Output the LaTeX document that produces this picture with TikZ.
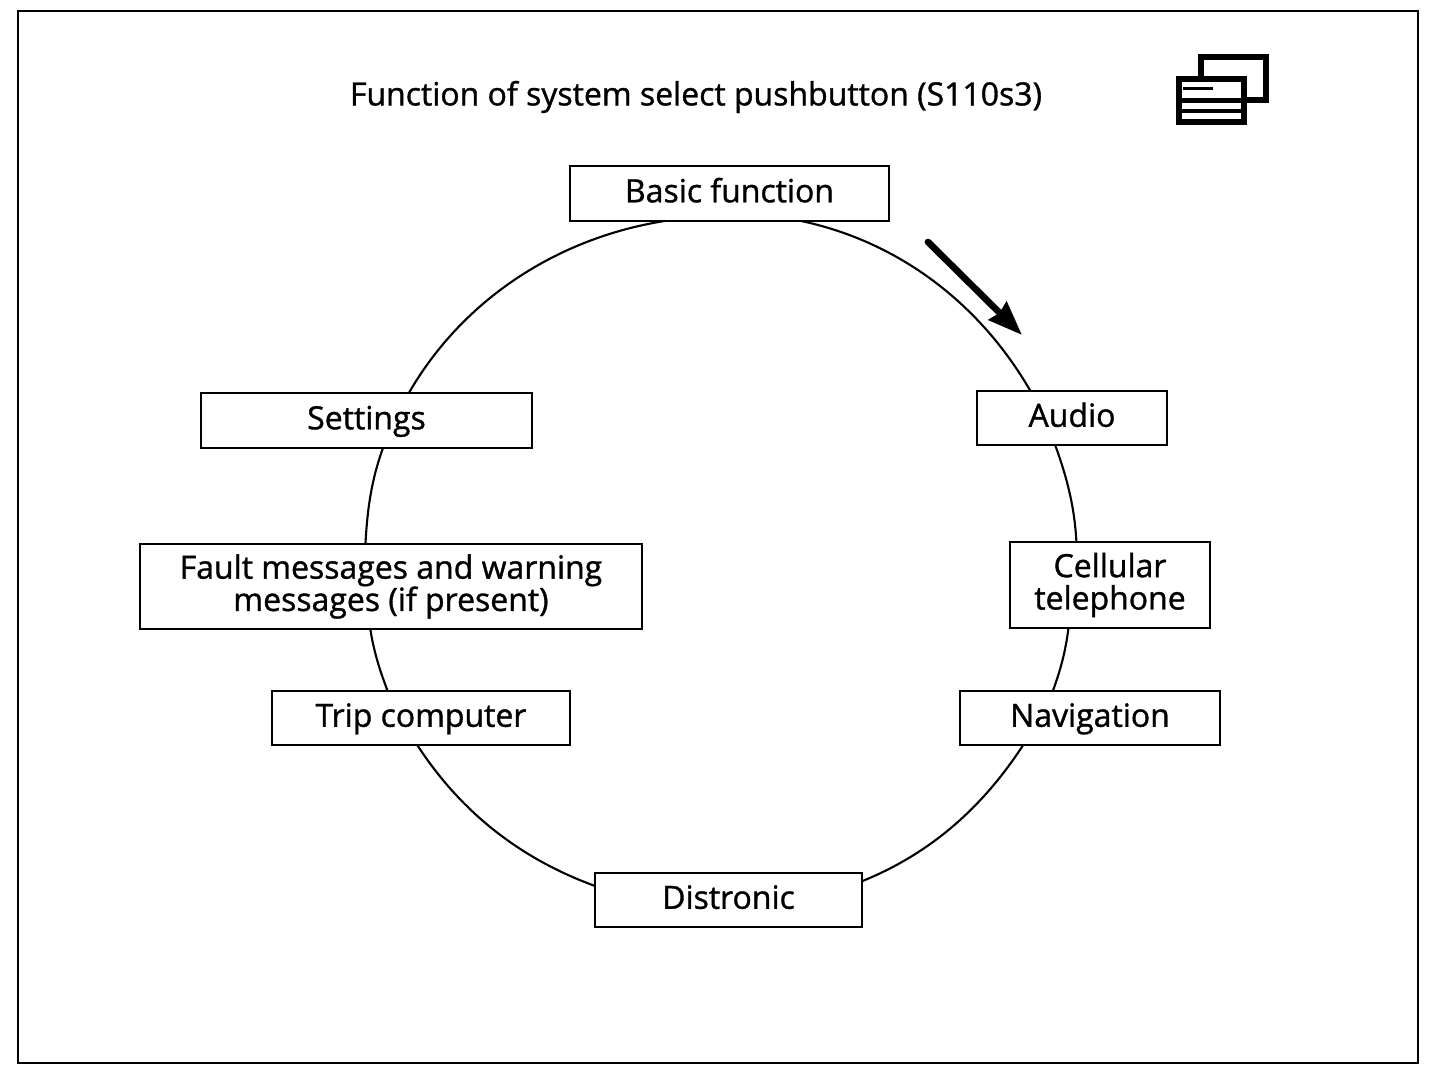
\documentclass[tikz,border=0pt]{standalone}
\usepackage{fontspec}
\setmainfont[FakeBold=1.1]{Open Sans}
\usetikzlibrary{arrows.meta}

\tikzset{
  menubox/.style={draw, rectangle, fill=white, line width=1.5pt, outer sep=0pt, inner sep=0pt, align=center,
    font=\fontsize{18.2}{18.4}\selectfont},
  oneline/.style={menubox, text height=12pt, text depth=2pt},
  ringline/.style={line width=1.2pt, looseness=0.9},
  iconbox/.style={draw, rectangle, fill=white, line width=3.4pt, outer sep=0pt, inner sep=0pt, minimum width=1.3cm, minimum height=0.86cm}
}

\begin{document}
\begin{tikzpicture}[x=0.02cm, y=0.02cm]

\useasboundingbox (0, 0) rectangle (1456, 1084);

% outer frame and figure title
\draw[line width=1.6pt] (18, 21) rectangle (1418, 1073);
\node[font=\fontsize{18.2}{18.4}\selectfont] at (696, 987) (title) {Function of system select pushbutton (S110s3)};

% icon, two windows
\node[iconbox] at (1233.5, 1005.5) (iconback) {};
\node[iconbox] at (1211.5, 983.5) (iconfront) {};
\draw[line width=2.8pt] (iconfront.west |- 0, 983.5) -- (iconfront.east |- 0, 983.5);
\draw[line width=2.3pt] (iconfront.west |- 0, 973) -- (iconfront.east |- 0, 973);
\draw[line width=1.7pt] (1183, 995) -- (1213, 995);

% menu boxes
\node[oneline, minimum width=6.38cm, minimum height=1.10cm] at (729.5, 890.5) (basic) {Basic function};
\node[oneline, minimum width=3.80cm, minimum height=1.08cm] at (1072, 666) (audio) {Audio};
\node[menubox, minimum width=4.00cm, minimum height=1.72cm] at (1110, 499) (cell) {Cellular\\telephone};
\node[oneline, minimum width=5.20cm, minimum height=1.08cm] at (1090, 366) (nav) {Navigation};
\node[oneline, minimum width=5.34cm, minimum height=1.08cm] at (728.5, 184) (dist) {Distronic};
\node[oneline, minimum width=5.96cm, minimum height=1.08cm] at (421, 366) (trip) {Trip computer};
\node[menubox, minimum width=10.04cm, minimum height=1.70cm] at (391, 497.5) (fault) {Fault messages and warning\\messages (if present)};
\node[oneline, minimum width=6.62cm, minimum height=1.10cm] at (366.5, 663.5) (settings) {Settings};

% ring, clockwise from the top
\draw[ringline] (basic.-21) to[out=-12, in=120] (audio.147);
\draw[ringline] (audio.-122) to[out=-70, in=93] (cell.128);
\draw[ringline] (cell.-134) to[out=-97, in=70] (nav.144);
\draw[ringline] (nav.-158) to[out=-123, in=22] (dist.8.5);
\draw[ringline] (dist.174) to[out=160, in=-57] (trip.-98);
\draw[ringline] (trip.141) to[out=111, in=-81] (fault.-116);
\draw[ringline] (fault.121) to[out=87, in=-110] (settings.-59);
\draw[ringline] (settings.33) to[out=60, in=-171] (basic.-157);

% direction arrow
\coordinate (dirtail) at (928, 842);
\coordinate (dirtip) at (1022, 749);
\draw[-{Stealth[length=0.68cm, width=0.5cm, inset=0.05cm]}, line width=3.8pt, line cap=round] (dirtail) -- (dirtip);

\end{tikzpicture}
\end{document}
